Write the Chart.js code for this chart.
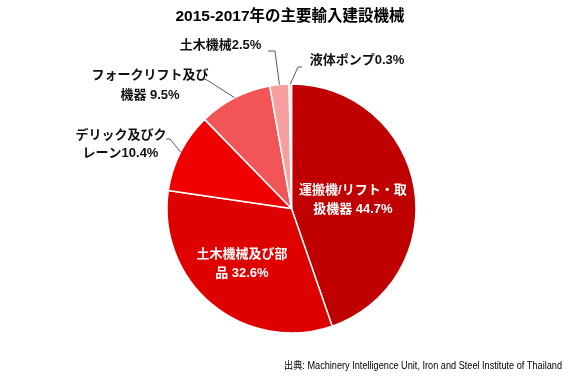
<!DOCTYPE html>
<html><head><meta charset="utf-8">
<script src="https://cdn.jsdelivr.net/npm/chart.js@4/dist/chart.umd.min.js"></script>
<style>html,body{margin:0;padding:0;background:#fff;overflow:hidden}canvas{display:block}</style>
</head><body>
<canvas id="c" width="580" height="379"></canvas>
<script>
// ---- data ----
const categories = ["運搬機/リフト・取扱機器","土木機械及び部品","デリック及びクレーン","フォークリフト及び機器","土木機械","液体ポンプ"];
const shares = [44.7, 32.6, 10.4, 9.5, 2.5, 0.3];
// label text split into lines (value appended to last line)
const labelParts = [["運搬機/リフト・取","扱機器 "],["土木機械及び部","品 "],["デリック及びク","レーン"],["フォークリフト及び","機器 "],["土木機械"],["液体ポンプ"]];
const titleText = "2015-2017年の主要輸入建設機械";
const sourceText = "出典: Machinery Intelligence Unit, Iron and Steel Institute of Thailand";

// ---- styles ----
const colors = ["#C00000","#DF0000","#F00000","#F25555","#F6A0A0","#FBD2D2"];
const FONT = '"Liberation Sans","Noto Sans CJK JP",sans-serif';
// label placement (inside: radial fraction + nudge; outside: text pos + leader path)
const labelLayout = [
  {inside:true, r:0.5, dx:0, dy:2},
  {inside:true, r:0.6, dx:-2, dy:-2},
  {inside:false, pos:[[121,135],[120.5,153]], path:[[166,139],[170,139]]},
  {inside:false, pos:[[150,75],[150,95]], path:[[204,79],[207,80]]},
  {inside:false, pos:[[220.5,45]], path:[[268,51],[275,51]]},
  {inside:false, pos:[[357,60]], path:[[302,67],[298,67]]}
];

const labelPlugin = {
  id:'labels',
  afterDatasetsDraw(chart){
    const ctx = chart.ctx;
    const meta = chart.getDatasetMeta(0);
    ctx.save();
    // title
    ctx.fillStyle = '#000';
    ctx.font = 'bold 15.5px ' + FONT;
    ctx.textAlign = 'center'; ctx.textBaseline = 'middle';
    ctx.fillText(titleText, 290, 17);
    // source (right-aligned, fitted to the reference's span)
    ctx.font = '10px ' + FONT;
    ctx.textAlign = 'right';
    ctx.fillStyle = '#000';
    const w = ctx.measureText(sourceText).width;
    const sx = Math.min(1, 278 / w);
    ctx.save();
    ctx.translate(562, 366);
    ctx.scale(sx, 1);
    ctx.fillText(sourceText, 0, 0);
    ctx.restore();

    meta.data.forEach((arc, i) => {
      const p = arc.getProps(['x','y','startAngle','endAngle','outerRadius'], true);
      const mid = (p.startAngle + p.endAngle) / 2;
      const L = labelLayout[i];
      const lines = labelParts[i].slice();
      lines[lines.length-1] = lines[lines.length-1] + shares[i].toFixed(1) + '%';
      ctx.font = 'bold 13px ' + FONT;
      ctx.textAlign = 'center'; ctx.textBaseline = 'middle';
      if (L.inside) {
        const cx = p.x + Math.cos(mid) * p.outerRadius * L.r + L.dx;
        const cy = p.y + Math.sin(mid) * p.outerRadius * L.r + L.dy;
        ctx.fillStyle = '#fff';
        const lh = 19;
        const y0 = cy - (lines.length-1) * lh / 2;
        lines.forEach((t, k) => ctx.fillText(t, cx, y0 + k*lh));
      } else {
        ctx.fillStyle = '#111';
        lines.forEach((t, k) => ctx.fillText(t, L.pos[k][0], L.pos[k][1]));
        const ex = p.x + Math.cos(mid) * p.outerRadius;
        const ey = p.y + Math.sin(mid) * p.outerRadius;
        ctx.strokeStyle = '#595959'; ctx.lineWidth = 1;
        ctx.beginPath();
        ctx.moveTo(L.path[0][0], L.path[0][1]);
        for (let k=1;k<L.path.length;k++) ctx.lineTo(L.path[k][0], L.path[k][1]);
        ctx.lineTo(ex, ey);
        ctx.stroke();
      }
    });
    ctx.restore();
  }
};

new Chart(document.getElementById('c'), {
  type:'pie',
  data:{ labels:categories, datasets:[{ data:shares, backgroundColor:colors, borderColor:'#ffffff', borderWidth:1.5 }]},
  options:{
    responsive:false, devicePixelRatio:1, animation:false,
    radius:124.5,
    layout:{ padding:{ left:161.5, right:158.5, top:78.5, bottom:40.5 } },
    plugins:{ legend:{display:false}, tooltip:{enabled:false}, title:{display:false} }
  },
  plugins:[labelPlugin]
});
</script>
</body></html>
